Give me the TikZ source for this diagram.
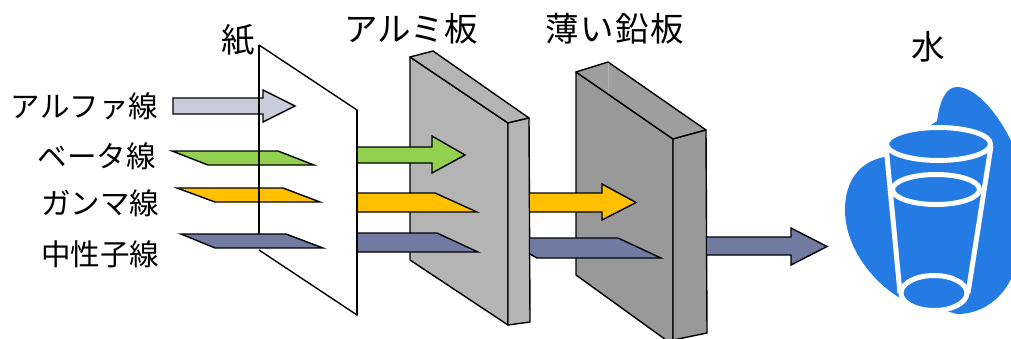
\documentclass[tikz,border=0pt]{standalone}
\usepackage{fontspec}
\newfontfamily\jp{Noto Sans CJK JP}
\begin{document}
\begin{tikzpicture}[x=1pt,y=-1pt,
  label/.style={inner sep=0pt,font=\jp\fontsize{29.5}{30}\selectfont},
  title/.style={inner sep=0pt,font=\jp\fontsize{33.5}{35}\selectfont},
  ray/.style={draw=black,line width=1.4pt,line join=miter},
  plate/.style={draw=black,line width=1.4pt,line join=round},
]
\definecolor{alphac}{HTML}{C9CCDB}
\definecolor{betac}{HTML}{92D050}
\definecolor{gammac}{HTML}{FFC000}
\definecolor{neutc}{HTML}{717BA1}
\definecolor{alum}{HTML}{B4B4B4}
\definecolor{lead}{HTML}{999999}
\definecolor{waterc}{HTML}{237BE3}

\useasboundingbox (0,0) rectangle (1011,338);
\clip (0,0) rectangle (1011,338);

% labels
\node[label] (lalpha) at (84.5,106) {アルファ線};
\node[label] (lbeta)  at (96.5,156) {ベータ線};
\node[label] (lgamma) at (100,203) {ガンマ線};
\node[label] (lneut)  at (100,254) {中性子線};
\node[title] (lpaper) at (238,40) {紙};
\node[title] (lalum)  at (411,29) {アルミ板};
\node[title] (llead)  at (615,29) {\addfontfeatures{LetterSpace=4}薄い鉛板};
\node[title] (lwater) at (928,47) {水};

% paper sheet
\draw[line width=1.4pt,line join=miter] (259,250) -- (357,315) -- (357,110) -- (259,45);

% rays in front of the paper
\filldraw[ray,fill=alphac] (173,98) -- (263,98) -- (263,90) -- (295,106) -- (263,122) -- (263,114) -- (173,114) -- cycle;
\filldraw[ray,fill=betac] (172,151) -- (278,151) -- (314,165) -- (208,165) -- cycle;
\filldraw[ray,fill=gammac] (177,188) -- (283,188) -- (320,202) -- (215,202) -- cycle;
\draw[line width=1.4pt] (259,45) -- (259,234);
\filldraw[ray,fill=neutc] (181,234) -- (286,234) -- (323,248) -- (215,248) -- cycle;

% aluminium plate
\filldraw[plate,fill=alum] (410,57) -- (508,123) -- (508,325) -- (410,260) -- cycle;
\filldraw[plate,fill=alum] (410,57) -- (433,51) -- (529,118) -- (508,123) -- cycle;
\filldraw[plate,fill=alum] (508,123) -- (529,118) -- (530,322) -- (508,325) -- cycle;

% rays between paper and aluminium
\fill[betac] (357,147) -- (432,147) -- (432,136) -- (465,155) -- (432,173) -- (432,163) -- (357,163) -- cycle;
\draw[ray] (357,147) -- (432,147) -- (432,136) -- (465,155) -- (432,173) -- (432,163) -- (357,163);
\fill[gammac] (357,193) -- (435,193) -- (477,212) -- (357,212) -- cycle;
\draw[ray] (357,193) -- (435,193) -- (477,212) -- (357,212);
\fill[neutc] (357,233) -- (437,233) -- (478,252) -- (357,252) -- cycle;
\draw[ray] (357,233) -- (437,233) -- (478,252) -- (357,252);
\draw[line width=1.4pt] (357,110) -- (357,315);

% thin lead plate
\filldraw[plate,fill=lead] (576,72) -- (673,139) -- (673,345) -- (576,275) -- cycle;
\filldraw[plate,fill=lead!95!white] (576,72) -- (608,62) -- (706,130) -- (673,139) -- cycle;
\filldraw[plate,fill=lead] (673,139) -- (706,130) -- (707,333) -- (673,340) -- cycle;
\draw[gray!60,line width=1pt] (608,63) -- (608,93);

% rays between aluminium and lead
\fill[gammac] (530,193) -- (602,193) -- (602,184) -- (636,202.5) -- (602,220) -- (602,212) -- (530,212) -- cycle;
\draw[ray] (530,193) -- (602,193) -- (602,184) -- (636,202.5) -- (602,220) -- (602,212) -- (530,212);
\fill[neutc] (530,238) -- (618,238) -- (661,258) -- (537,258) -- (530,254) -- cycle;
\draw[ray] (530,238) -- (618,238) -- (661,258) -- (537,258) -- (530,254);

% ray passing the lead plate
\fill[neutc] (707,237) -- (791,237) -- (791,228) -- (827,246.5) -- (791,265) -- (791,255) -- (707,255) -- cycle;
\draw[ray] (707,237) -- (791,237) -- (791,228) -- (827,246.5) -- (791,265) -- (791,255) -- (707,255);

% water: blob backdrop
\fill[waterc] (937,121) .. controls (940,100) and (946,87) .. (957,87)
  .. controls (978,87) and (1003,120) .. (1015,150)
  .. controls (1030,200) and (1025,270) .. (1000,295)
  .. controls (990,306) and (975,314) .. (957,314)
  -- (900,298)
  .. controls (870,280) and (845,245) .. (845,210)
  .. controls (845,180) and (860,162) .. (884,157) -- cycle;

% glass
\fill[waterc] (886,144) -- (991,144) -- (968,293) -- (900,293) -- cycle;
\draw[white,line width=5pt] (886,146) -- (900,293);
\draw[white,line width=5pt] (991,146) -- (968,293);
\filldraw[white,fill=waterc,line width=5pt] (934,293) ellipse [x radius=33,y radius=17.5];
\draw[white,line width=5pt] (936,189.5) ellipse [x radius=43.5,y radius=15];
\filldraw[white,fill=waterc,line width=5pt] (938.5,144) ellipse [x radius=52,y radius=16.5];
\end{tikzpicture}
\end{document}
